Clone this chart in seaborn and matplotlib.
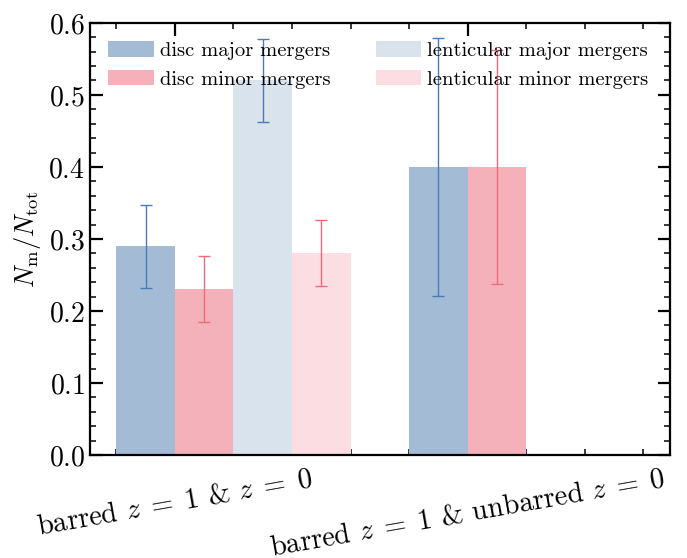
import numpy as np
import pandas as pd
import matplotlib
matplotlib.use("Agg")
import matplotlib.pyplot as plt
from matplotlib.ticker import MultipleLocator
import seaborn as sns

# ---- data ----
categories = [r"barred $z\;=\;1$ & $z\;=\;0$",
              r"barred $z\;=\;1$ & unbarred $z\;=\;0$"]
series = ["disc major mergers", "disc minor mergers",
          "lenticular major mergers", "lenticular minor mergers"]
disc_major = [0.29, 0.40]
disc_minor = [0.23, 0.40]
lent_major = [0.52, 0.0]
lent_minor = [0.28, 0.0]
disc_major_lo = [0.232, 0.221]
disc_major_hi = [0.347, 0.579]
disc_minor_lo = [0.185, 0.237]
disc_minor_hi = [0.276, 0.563]
lent_major_lo = [0.462, np.nan]
lent_major_hi = [0.578, np.nan]
lent_minor_lo = [0.234, np.nan]
lent_minor_hi = [0.326, np.nan]

bar_colors = ["#a3bbd4", "#f5b1ba", "#d9e3ee", "#fbdde2"]
err_colors = ["#4a7bb7", "#ef6b7b", "#4a7bb7", "#ef6b7b"]

values = [disc_major, disc_minor, lent_major, lent_minor]
los = [disc_major_lo, disc_minor_lo, lent_major_lo, lent_minor_lo]
his = [disc_major_hi, disc_minor_hi, lent_major_hi, lent_minor_hi]

df = pd.DataFrame({
    "cat": [c for s in series for c in categories],
    "type": [s for s in series for c in categories],
    "val": [v for vals in values for v in vals],
})

sns.set_theme(style="ticks")
plt.rcParams["font.family"] = ["cmr10", "DejaVu Serif"]
plt.rcParams["mathtext.fontset"] = "cm"
plt.rcParams["axes.formatter.use_mathtext"] = True
plt.rcParams["axes.unicode_minus"] = False
for key in ["text.color", "axes.labelcolor", "axes.edgecolor",
            "xtick.color", "ytick.color"]:
    plt.rcParams[key] = "black"

fig = plt.figure(figsize=(6.87, 5.58), dpi=100)
ax = fig.add_axes([0.131, 0.1846, 0.844, 0.7744])

sns.barplot(data=df, x="cat", y="val", hue="type", hue_order=series,
            order=categories, palette=bar_colors, saturation=1,
            linewidth=0, ax=ax, errorbar=None, width=0.8)

bar_conts = list(ax.containers)
for i, cont in enumerate(bar_conts):
    for j, bar in enumerate(cont):
        lo, hi = los[i][j], his[i][j]
        if np.isnan(lo):
            continue
        xc = bar.get_x() + bar.get_width() / 2
        h = bar.get_height()
        ax.errorbar([xc], [h], yerr=[[h - lo], [hi - h]], fmt="none",
                    ecolor=err_colors[i], elinewidth=1.0, capsize=4,
                    capthick=1.0, zorder=5)

# category ticks sit at the boundary between the first two bars of each group
first = bar_conts[0]
tick_pos = [b.get_x() + b.get_width() for b in first]
ax.set_xticks(tick_pos)
ax.set_xticklabels(categories, rotation=10, ha="center", fontsize=20.5)
ax.xaxis.set_minor_locator(MultipleLocator(0.2))
ax.set_xlim(-0.49, 1.49)
ax.set_ylim(0, 0.6)
ax.yaxis.set_major_locator(MultipleLocator(0.1))
ax.yaxis.set_minor_locator(MultipleLocator(0.02))
ax.tick_params(axis="y", labelsize=20)
ax.tick_params(axis="x", pad=8)
ax.tick_params(which="both", direction="in", top=True, right=True)
ax.tick_params(which="major", length=9, width=1.6)
ax.tick_params(which="minor", length=4.5, width=1.1)
for sp in ax.spines.values():
    sp.set_linewidth(1.6)
ax.set_xlabel("")
ax.set_ylabel(r"$N_{\rm m}/N_{\rm tot}$", fontsize=19)

handles, labels = ax.get_legend_handles_labels()
ax.legend(handles, labels, ncol=2, loc="upper left", frameon=False,
          fontsize=14.8, handlelength=2.2, handleheight=0.8,
          handletextpad=0.3, columnspacing=2.2, labelspacing=0.45,
          borderaxespad=0.5)

fig.savefig("out.png", dpi=100)
